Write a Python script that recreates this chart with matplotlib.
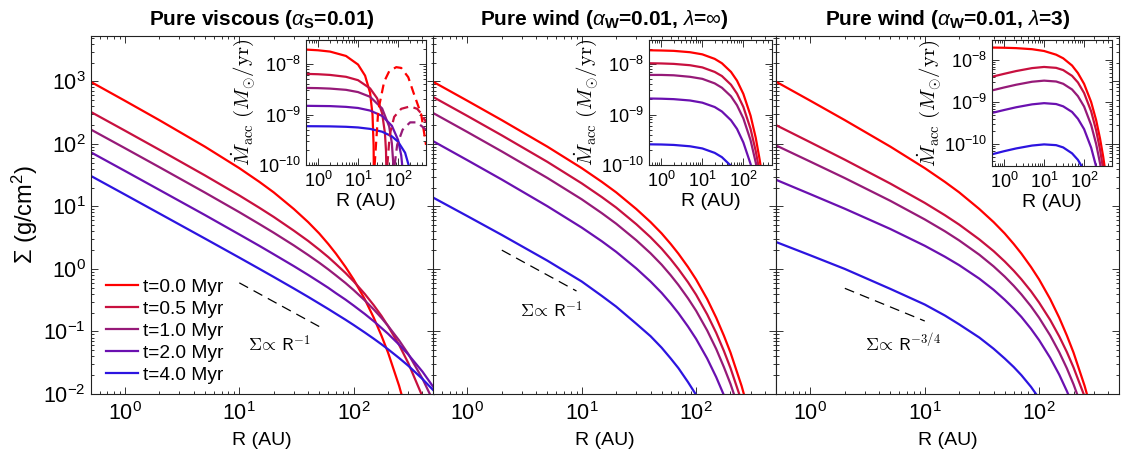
import matplotlib
matplotlib.use("Agg")
import matplotlib.pyplot as plt
from matplotlib.ticker import LogLocator, NullFormatter

plt.rcParams["font.family"] = ["Liberation Sans", "DejaVu Sans"]
plt.rcParams["mathtext.fontset"] = "custom"
plt.rcParams["mathtext.rm"] = "Liberation Sans"
plt.rcParams["mathtext.it"] = "Liberation Sans:italic"
plt.rcParams["mathtext.bf"] = "Liberation Sans:bold"
plt.rcParams["axes.unicode_minus"] = False

# ---- data ----
times = ["t=0.0 Myr", "t=0.5 Myr", "t=1.0 Myr", "t=2.0 Myr", "t=4.0 Myr"]
colors = ["#ff0000", "#c8103f", "#961a78", "#6a10b0", "#2c14e0"]

titles = [r"Pure viscous ($\alpha_{\mathbf{S}}$=0.01)",
          r"Pure wind ($\alpha_{\mathbf{W}}$=0.01, $\lambda$=$\infty$)",
          r"Pure wind ($\alpha_{\mathbf{W}}$=0.01, $\lambda$=3)"]

# surface density, R in AU, Sigma in g/cm^2
R_sig = [0.5, 1, 2, 5, 10, 15, 20, 30, 40, 50, 60, 70, 85, 100, 125, 150, 175, 200, 250, 300, 400, 500]

sig_visc = [
    [990, 490, 240, 90.5, 41, 24.7, 16.8, 9.1, 5.62, 3.7, 2.51, 1.76, 1.074, 0.68, 0.33, 0.166, 0.086, 0.046, 0.0135, 0.0041],
    [327, 163, 80.7, 31.4, 15, 9.51, 6.8, 4.1, 2.81, 2.04, 1.55, 1.2, 0.861, 0.635, 0.40, 0.263, 0.178, 0.122, 0.061, 0.0315, 0.0091, 0.0028],
    [171, 85.5, 42.5, 16.7, 8.1, 5.22, 3.8, 2.38, 1.674, 1.26, 0.985, 0.79, 0.595, 0.46, 0.315, 0.225, 0.165, 0.123, 0.072, 0.044, 0.0176, 0.0075],
    [74, 37, 18.4, 7.3, 3.57, 2.34, 1.72, 1.11, 0.804, 0.62, 0.50, 0.41, 0.323, 0.26, 0.191, 0.146, 0.114, 0.092, 0.0616, 0.043, 0.0228, 0.0128],
    [31, 15.5, 7.72, 3.07, 1.52, 1.003, 0.745, 0.487, 0.358, 0.28, 0.229, 0.192, 0.154, 0.127, 0.0966, 0.0766, 0.0625, 0.052, 0.0376, 0.0284, 0.0174, 0.0114],
]
sig_wind = [
    [990, 490, 240, 90.5, 41, 24.7, 16.8, 9.1, 5.62, 3.7, 2.51, 1.76, 1.074, 0.68, 0.33, 0.166, 0.086, 0.046, 0.0135, 0.0041],
    [565, 280, 137, 51.7, 23.4, 14.1, 9.6, 5.2, 3.21, 2.11, 1.43, 1.0, 0.613, 0.388, 0.188, 0.095, 0.049, 0.026, 0.0077, 0.0023],
    [313, 155, 75.8, 28.6, 13, 7.8, 5.3, 2.88, 1.78, 1.17, 0.793, 0.556, 0.339, 0.215, 0.104, 0.0525, 0.027, 0.0145, 0.0043, 0.0013],
    [111, 54.9, 26.9, 10.1, 4.59, 2.77, 1.88, 1.02, 0.629, 0.414, 0.281, 0.197, 0.120, 0.0762, 0.037, 0.0186, 0.0096, 0.0052, 0.0015],
    [13.9, 7.0, 3.5, 1.36, 0.63, 0.37, 0.25, 0.133, 0.084, 0.055, 0.037, 0.026, 0.0155, 0.0097, 0.0046, 0.0023],
]
sig_lam3 = [
    [990, 490, 240, 90.5, 41, 24.7, 16.8, 9.1, 5.62, 3.7, 2.51, 1.76, 1.074, 0.68, 0.33, 0.166, 0.086, 0.046, 0.0135, 0.0041],
    [200, 106, 55.9, 23.2, 11.4, 7.24, 5.12, 2.97, 1.93, 1.32, 0.938, 0.683, 0.44, 0.29, 0.153, 0.0835, 0.0468, 0.0266, 0.0091, 0.003],
    [94.7, 52, 28.4, 12.3, 6.2, 4.01, 2.86, 1.69, 1.10, 0.756, 0.538, 0.392, 0.252, 0.166, 0.0864, 0.0466, 0.0257, 0.0143, 0.0047, 0.0015],
    [26.7, 15.7, 9.19, 4.36, 2.35, 1.57, 1.15, 0.70, 0.464, 0.322, 0.232, 0.171, 0.110, 0.0727, 0.0379, 0.0204, 0.0111, 0.0062, 0.0019],
    [2.7, 1.65, 1.0, 0.48, 0.27, 0.18, 0.13, 0.08, 0.053, 0.037, 0.027, 0.02, 0.013, 0.0085, 0.0038, 0.0017],
]

# accretion rate insets, Msun/yr
R_in = [0.5, 1, 2, 5, 10, 20, 30, 50, 70, 100, 150, 200, 250, 300, 350]
mdot_wind = [
    [1.88e-8, 1.86e-8, 1.83e-8, 1.72e-8, 1.56e-8, 1.27e-8, 1.04e-8, 7.0e-9, 4.7e-9, 2.57e-9, 9.5e-10, 3.5e-10, 1.28e-10, 4.7e-11],
    [1.04e-8, 1.03e-8, 1.01e-8, 9.5e-9, 8.6e-9, 7.0e-9, 5.8e-9, 3.9e-9, 2.6e-9, 1.42e-9, 5.2e-10, 1.9e-10, 7.1e-11, 2.6e-11],
    [6.1e-9, 6.1e-9, 6.0e-9, 5.6e-9, 5.1e-9, 4.15e-9, 3.4e-9, 2.3e-9, 1.53e-9, 8.4e-10, 3.1e-10, 1.13e-10, 4.2e-11],
    [2.08e-9, 2.06e-9, 2.02e-9, 1.9e-9, 1.72e-9, 1.41e-9, 1.15e-9, 7.7e-10, 5.2e-10, 2.8e-10, 1.05e-10, 3.8e-11],
    [2.57e-10, 2.55e-10, 2.5e-10, 2.35e-10, 2.13e-10, 1.74e-10, 1.43e-10, 9.6e-11, 6.4e-11],
]
mdot_lam3 = [
    [1.98e-8, 1.96e-8, 1.92e-8, 1.81e-8, 1.64e-8, 1.34e-8, 1.1e-8, 7.4e-9, 4.9e-9, 2.7e-9, 1.0e-9, 3.7e-10, 1.35e-10, 5e-11, 1.8e-11],
    [4.0e-9, 4.69e-9, 5.46e-9, 6.42e-9, 6.84e-9, 6.51e-9, 5.76e-9, 4.2e-9, 2.93e-9, 1.64e-9, 6.0e-10, 2.12e-10, 7.4e-11, 2.5e-11],
    [1.89e-9, 2.22e-9, 2.58e-9, 3.04e-9, 3.23e-9, 3.08e-9, 2.72e-9, 1.99e-9, 1.38e-9, 7.8e-10, 2.84e-10, 1.0e-10, 3.5e-11, 1.2e-11],
    [5.5e-10, 6.45e-10, 7.5e-10, 8.8e-10, 9.4e-10, 8.95e-10, 7.9e-10, 5.8e-10, 4.0e-10, 2.26e-10, 8.2e-11, 2.9e-11],
    [5.7e-11, 6.75e-11, 7.85e-11, 9.2e-11, 9.8e-11, 9.4e-11, 8.3e-11, 6.0e-11, 4.2e-11, 2.36e-11],
]
# viscous inset: inward flow (solid) and outward flow (dashed)
R_visc_in = [
    [0.5, 1, 2, 5, 10, 15, 20, 23, 24.5, 24.9],
    [0.5, 1, 2, 5, 10, 20, 30, 40, 47, 50, 52],
    [0.5, 1, 2, 5, 10, 20, 40, 60, 70, 76, 79],
    [0.5, 1, 2, 5, 10, 20, 40, 70, 100, 120, 130],
    [0.5, 1, 2, 5, 10, 20, 40, 70, 100, 150, 200],
]
mdot_visc_in = [
    [1.94e-8, 1.88e-8, 1.77e-8, 1.45e-8, 9.8e-9, 5.9e-9, 2.7e-9, 1.0e-9, 2.45e-10, 4.9e-11],
    [6.4e-9, 6.3e-9, 6.1e-9, 5.6e-9, 4.8e-9, 3.3e-9, 2.1e-9, 1.06e-9, 4.3e-10, 1.9e-10, 3.8e-11],
    [3.37e-9, 3.34e-9, 3.27e-9, 3.09e-9, 2.79e-9, 2.25e-9, 1.32e-9, 5.8e-10, 2.7e-10, 1.06e-10, 2.6e-11],
    [1.49e-9, 1.48e-9, 1.47e-9, 1.42e-9, 1.35e-9, 1.2e-9, 9.4e-10, 6.0e-10, 3.15e-10, 1.55e-10, 8.3e-11],
    [5.88e-10, 5.86e-10, 5.83e-10, 5.72e-10, 5.55e-10, 5.2e-10, 4.57e-10, 3.7e-10, 2.9e-10, 1.75e-10, 7.9e-11],
]
R_visc_out = [
    [26, 32, 45, 60, 90, 120, 180, 240, 300, 380, 500],
    [54, 62, 80, 120, 200, 300, 400, 500],
    [82, 95, 130, 200, 300, 500],
]
mdot_visc_out = [
    [1e-10, 1.2e-9, 4.5e-9, 7.2e-9, 8.7e-9, 8.4e-9, 5.5e-9, 2.8e-9, 1.7e-9, 1.0e-9, 2.5e-10],
    [1e-10, 4e-10, 9e-10, 1.3e-9, 1.45e-9, 1.3e-9, 1.0e-9, 7e-10],
    [1e-10, 2.5e-10, 5e-10, 7e-10, 7e-10, 5e-10],
]

# power-law guide lines and their labels
guide_R = [[10, 50], [2, 9], [2, 10]]
guide_S = [[0.6, 0.12], [2.0, 0.444], [0.49, 0.147]]
guide_txt = [r"$\Sigma\!\propto\,\mathsf{R}^{\mathsf{-1}}$",
             r"$\Sigma\!\propto\,\mathsf{R}^{\mathsf{-1}}$",
             r"$\Sigma\!\propto\,\mathsf{R}^{\mathsf{-3/4}}$"]
guide_pos = [(12, 0.06), (2.9, 0.21), (3.0, 0.066)]


def style_log(ax, size, pad):
    ax.set_xscale("log")
    ax.set_yscale("log")
    ax.tick_params(which="both", direction="in", top=True, right=True,
                   labelsize=size, width=0.7, color="#333333")
    ax.tick_params(which="major", length=5)
    ax.tick_params(which="minor", length=2.5)
    ax.tick_params(axis="x", pad=pad)
    ax.xaxis.set_minor_locator(LogLocator(base=10, subs=range(2, 10), numticks=20))
    ax.yaxis.set_minor_locator(LogLocator(base=10, subs=range(2, 10), numticks=20))
    ax.xaxis.set_minor_formatter(NullFormatter())
    ax.yaxis.set_minor_formatter(NullFormatter())
    for s in ax.spines.values():
        s.set_linewidth(0.8)
        s.set_color("#222222")


fig = plt.figure(figsize=(11.4, 4.66), dpi=100)

lefts = [0.0794, 0.3798, 0.6807]
inset_boxes = [[0.2684, 0.6459, 0.1053, 0.2682],
               [0.5693, 0.6459, 0.1079, 0.2682],
               [0.8702, 0.6438, 0.1053, 0.2704]]
inset_ylims = [(1e-10, 3e-8), (1e-10, 3e-8), (3e-11, 3e-8)]
sig_sets = [sig_visc, sig_wind, sig_lam3]

for p in range(3):
    ax = fig.add_axes([lefts[p], 0.1545, 0.3009, 0.768])
    style_log(ax, 15.5, 6)
    for k in range(5):
        s = sig_sets[p][k]
        ax.plot(R_sig[:len(s)], s, color=colors[k], lw=1.6, label=times[k])
    ax.plot(guide_R[p], guide_S[p], color="k", lw=0.9, dashes=(8, 5))
    ax.text(guide_pos[p][0], guide_pos[p][1], guide_txt[p], fontsize=13,
            math_fontfamily="cm", va="center", ha="left")
    ax.set_xlim(0.5, 500)
    ax.set_ylim(1e-2, 5.3e3)
    ax.set_xticks([1, 10, 100])
    ax.set_xlabel("R (AU)", fontsize=14, labelpad=5)
    ax.set_title(titles[p], fontsize=15, fontweight="bold", pad=8)
    if p == 0:
        ax.set_ylabel(r"$\Sigma$ (g/cm$^2$)", fontsize=17, labelpad=2)
        ax.legend(loc="center left", bbox_to_anchor=(0, 0.176), frameon=False,
                  fontsize=13.8, handlelength=1.7, handletextpad=0.25,
                  labelspacing=0.24, borderaxespad=0.5, borderpad=0.3)
    else:
        ax.set_yticklabels([])

    ins = fig.add_axes(inset_boxes[p])
    style_log(ins, 13, 4)
    if p == 0:
        for k in range(5):
            ins.plot(R_visc_in[k], mdot_visc_in[k], color=colors[k], lw=1.6)
        for k in range(3):
            ins.plot(R_visc_out[k], mdot_visc_out[k], color=colors[k], lw=1.6,
                     dashes=(4, 2.5))
    else:
        mset = mdot_wind if p == 1 else mdot_lam3
        for k in range(5):
            ins.plot(R_in[:len(mset[k])], mset[k], color=colors[k], lw=1.6)
    ins.set_xlim(0.5, 500)
    ins.set_ylim(*inset_ylims[p])
    ins.set_xticks([1, 10, 100])
    ins.set_yticks([1e-10, 1e-9, 1e-8])
    ins.set_xlabel("R (AU)", fontsize=14, labelpad=2)
    ins.set_ylabel(r"$\dot{M}_{\rm acc}\ (M_{\odot}/{\rm yr})$", fontsize=15,
                   math_fontfamily="cm", labelpad=1)

fig.savefig("out.png", dpi=100)
